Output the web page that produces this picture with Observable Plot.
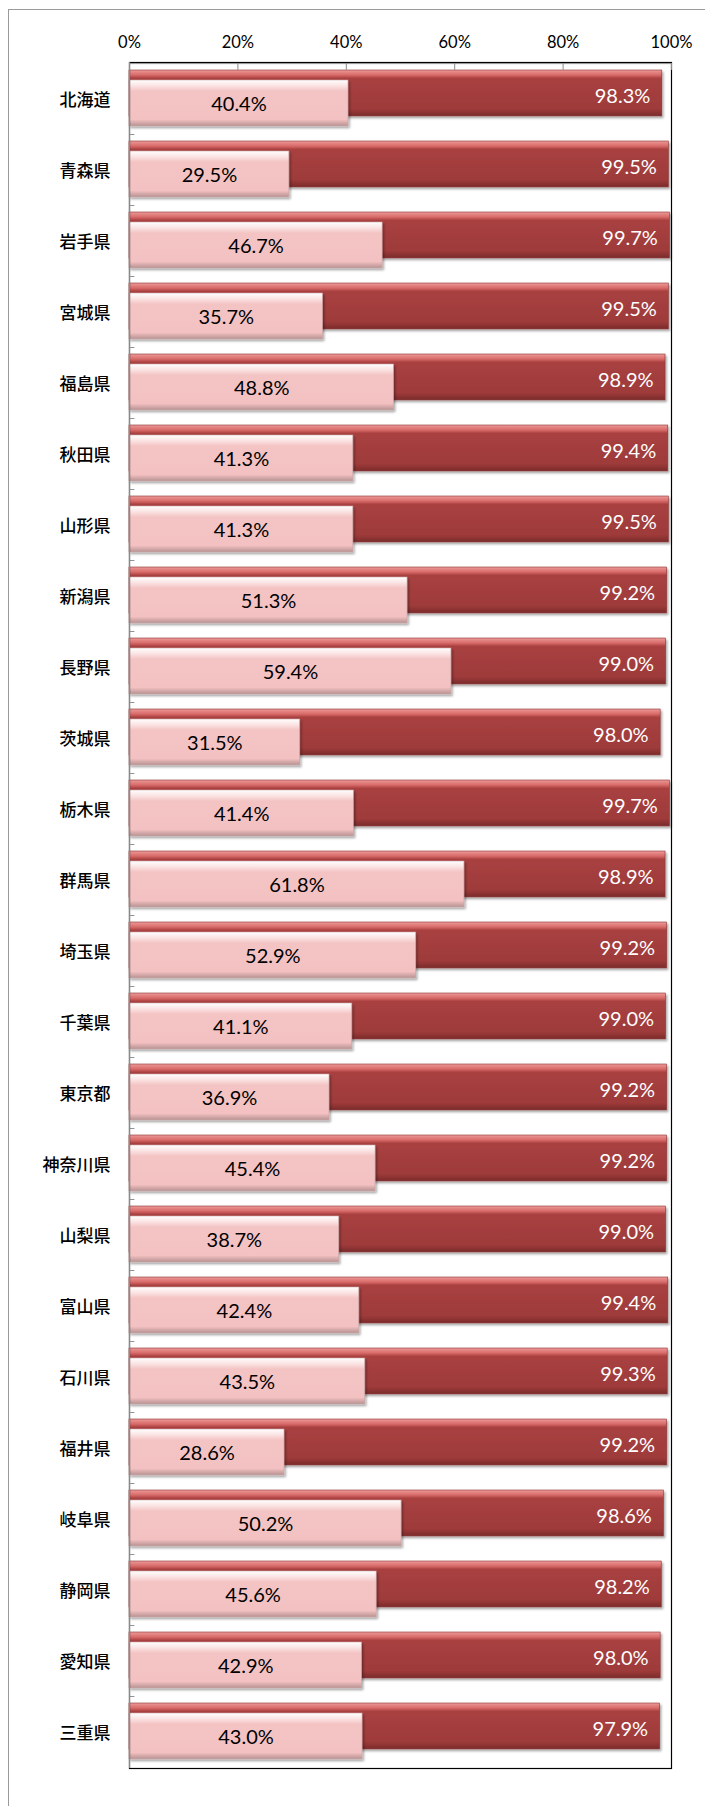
<!DOCTYPE html>
<html>
<head>
<meta charset="utf-8">
<script src="https://cdn.jsdelivr.net/npm/d3@7"></script>
<script src="https://cdn.jsdelivr.net/npm/@observablehq/plot@0.6"></script>
<style>
  html, body { margin: 0; padding: 0; background: #fff; }
  #wrap { position: relative; width: 705px; height: 1806px; overflow: hidden; }
  #border { position: absolute; left: 8px; top: 9px; width: 900px; height: 2000px;
            border-left: 1.5px solid #9a9a9a; border-top: 1.5px solid #9a9a9a; }
  #chart { position: absolute; left: 0; top: 0; }
</style>
</head>
<body>
<div id="wrap"><div id="border"></div><div id="chart"></div></div>
<script>
const prefectures = ["北海道","青森県","岩手県","宮城県","福島県","秋田県","山形県","新潟県","長野県","茨城県","栃木県","群馬県","埼玉県","千葉県","東京都","神奈川県","山梨県","富山県","石川県","福井県","岐阜県","静岡県","愛知県","三重県"];
const darkValues  = [98.3,99.5,99.7,99.5,98.9,99.4,99.5,99.2,99.0,98.0,99.7,98.9,99.2,99.0,99.2,99.2,99.0,99.4,99.3,99.2,98.6,98.2,98.0,97.9];
const lightValues = [40.4,29.5,46.7,35.7,48.8,41.3,41.3,51.3,59.4,31.5,41.4,61.8,52.9,41.1,36.9,45.4,38.7,42.4,43.5,28.6,50.2,45.6,42.9,43.0];
const xTicks = [0,20,40,60,80,100];

const data = prefectures.map((p, i) => ({pref: p, dark: darkValues[i], light: lightValues[i]}));

const W = 705, H = 1806, mT = 62, mB = 38, mL = 129, mR = 34;
const bw = (H - mT - mB) / prefectures.length;
const numFont = "Lato, 'Open Sans', sans-serif";

const svg = Plot.plot({
  width: W, height: H,
  marginTop: mT, marginBottom: mB, marginLeft: mL, marginRight: mR,
  x: {domain: [0, 100], ticks: xTicks},
  y: {domain: prefectures, padding: 0},
  style: {background: "transparent", color: "black"},
  marks: [
    Plot.barX(data, {y: "pref", x: "dark", fill: "url(#gDark)", insetTop: 7, insetBottom: bw - 53}),
    Plot.barX(data, {y: "pref", x: "light", fill: "url(#gLight)", insetTop: 17, insetBottom: bw - 63}),
    Plot.frame({stroke: "black", strokeWidth: 1.2}),
    Plot.ruleX([0], {stroke: "#8a8a8a", strokeWidth: 1.2}),
    Plot.barX([prefectures[0]], {y: d => d, x1: 0, x2: 100, insetBottom: bw - 1.2, fill: "#9a9a9a"}),
    Plot.tickX(xTicks, {x: d => d, y: () => prefectures[0], insetBottom: bw - 7, stroke: "#8a8a8a"}),
    Plot.barX(prefectures.slice(1), {y: d => d, x1: 0, x2: 1, insetBottom: bw - 1, fill: "#8a8a8a"}),
    Plot.axisX({anchor: "top", ticks: xTicks, tickSize: 0, tickPadding: 15, tickFormat: d => d + "%",
                fontSize: 16.5, fontFamily: numFont, label: null}),
    Plot.axisY({tickSize: 0, tickPadding: 19, fontSize: 17, fontWeight: 500, dy: 1.5,
                fontFamily: "'Noto Sans CJK JP', sans-serif", label: null}),
    Plot.text(data, {y: "pref", x: d => d.light / 2, text: d => d.light.toFixed(1) + "%", dy: 6,
                     fontSize: 20, fontFamily: numFont, fill: "black"}),
    Plot.text(data, {y: "pref", x: "dark", text: d => d.dark.toFixed(1) + "%", textAnchor: "end", dx: -12, dy: -2.5,
                     fontSize: 20, fontFamily: numFont, fill: "white"})
  ]
});

svg.insertAdjacentHTML("afterbegin", `
<defs>
  <linearGradient id="gDark" x1="0" y1="0" x2="0" y2="1">
    <stop offset="0" stop-color="#ec9a98"/>
    <stop offset="0.11" stop-color="#d86a68"/>
    <stop offset="0.18" stop-color="#a94141"/>
    <stop offset="0.85" stop-color="#9e3a3a"/>
    <stop offset="1" stop-color="#7a2a2a"/>
  </linearGradient>
  <linearGradient id="gLight" x1="0" y1="0" x2="0" y2="1">
    <stop offset="0" stop-color="#ffffff"/>
    <stop offset="0.12" stop-color="#fbe4e4"/>
    <stop offset="0.24" stop-color="#f4c4c4"/>
    <stop offset="0.86" stop-color="#f3c1c1"/>
    <stop offset="1" stop-color="#b89292"/>
  </linearGradient>
  <filter id="shadow" x="-5%" y="-20%" width="110%" height="150%">
    <feDropShadow dx="1.5" dy="2" stdDeviation="1.3" flood-color="#000" flood-opacity="0.35"/>
  </filter>
</defs>`);

const barGroups = svg.querySelectorAll('g[aria-label="bar"]');
if (barGroups[0]) barGroups[0].setAttribute("filter", "url(#shadow)");
if (barGroups[1]) barGroups[1].setAttribute("filter", "url(#shadow)");
barGroups[1] && barGroups[1].querySelectorAll("rect").forEach(r => r.setAttribute("stroke", "#c9a3a3"));
barGroups[0] && barGroups[0].querySelectorAll("rect").forEach(r => r.setAttribute("stroke", "#8a3232"));
[barGroups[0], barGroups[1]].forEach(g => g && g.querySelectorAll("rect").forEach(r => r.setAttribute("stroke-width", "0.6")));

document.getElementById("chart").appendChild(svg);
</script>
</body>
</html>
